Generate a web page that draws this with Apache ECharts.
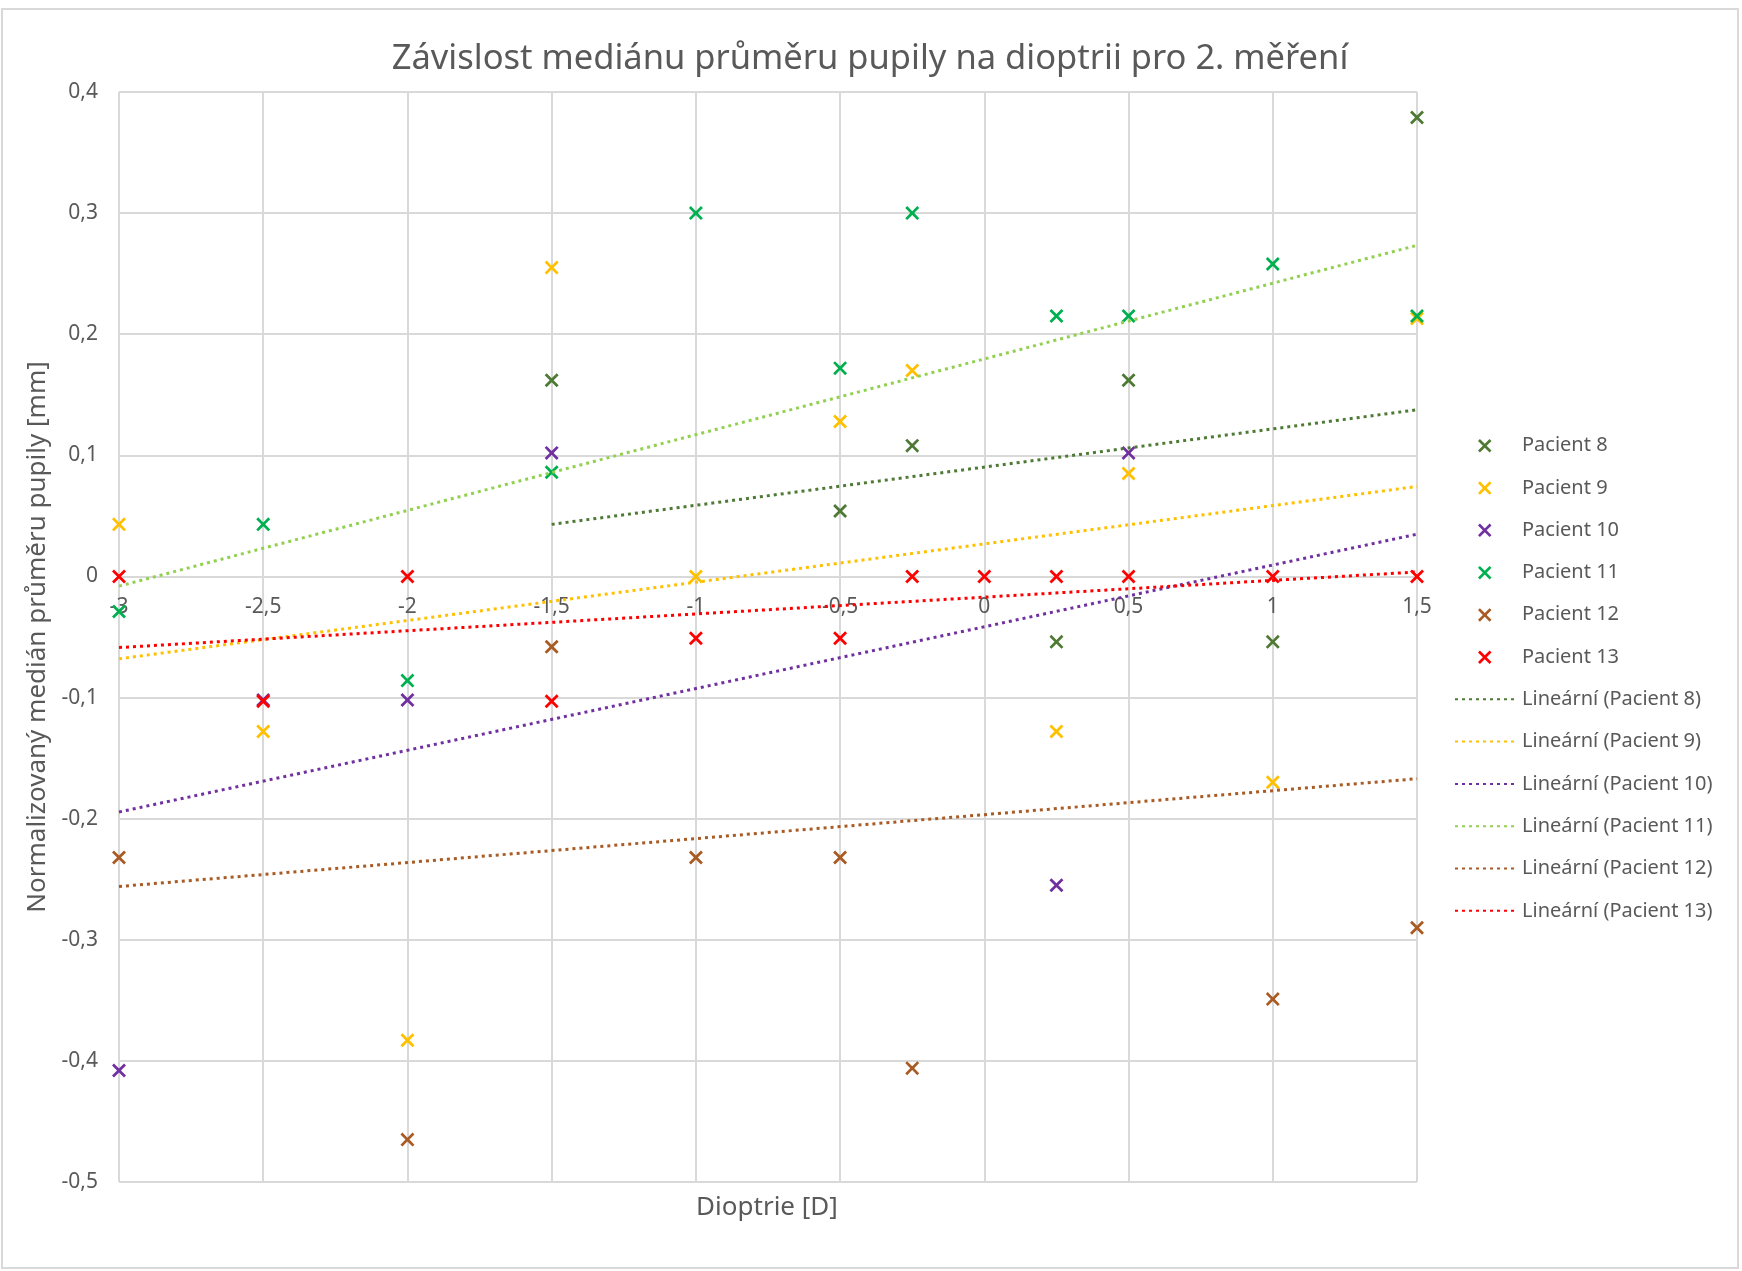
<!DOCTYPE html>
<html>
<head>
<meta charset="utf-8">
<script src="https://cdn.jsdelivr.net/npm/echarts@6/dist/echarts.min.js"></script>
<style>
  html, body { margin: 0; padding: 0; background: #ffffff; }
  #chart { width: 1742px; height: 1271px; }
</style>
</head>
<body>
<div id="chart"></div>
<script>
// Measured values: [dioptre, normalised median pupil diameter in mm]
const pacient8 = [[-1.5, 0.162], [-0.5, 0.054], [-0.25, 0.108], [0.25, -0.054], [0.5, 0.162], [1, -0.054], [1.5, 0.379]];
const pacient9 = [[-3, 0.043], [-2.5, -0.128], [-2, -0.383], [-1.5, 0.255], [-1, 0], [-0.5, 0.128], [-0.25, 0.170], [0.25, -0.128], [0.5, 0.085], [1, -0.170], [1.5, 0.213]];
const pacient10 = [[-3, -0.408], [-2.5, -0.102], [-2, -0.102], [-1.5, 0.102], [0.25, -0.255], [0.5, 0.102]];
const pacient11 = [[-3, -0.029], [-2.5, 0.043], [-2, -0.086], [-1.5, 0.086], [-1, 0.300], [-0.5, 0.172], [-0.25, 0.300], [0.25, 0.215], [0.5, 0.215], [1, 0.258], [1.5, 0.215]];
const pacient12 = [[-3, -0.232], [-2, -0.465], [-1.5, -0.058], [-1, -0.232], [-0.5, -0.232], [-0.25, -0.406], [1, -0.349], [1.5, -0.290]];
const pacient13 = [[-3, 0], [-2.5, -0.103], [-2, 0], [-1.5, -0.103], [-1, -0.051], [-0.5, -0.051], [-0.25, 0], [0, 0], [0.25, 0], [0.5, 0], [1, 0], [1.5, 0]];

// Linear trend lines (start and end point)
const trend8 = [[-1.5, 0.043], [1.5, 0.1376]];
const trend9 = [[-3, -0.068], [1.5, 0.0743]];
const trend10 = [[-3, -0.1945], [1.5, 0.0349]];
const trend11 = [[-3, -0.008], [1.5, 0.2734]];
const trend12 = [[-3, -0.256], [1.5, -0.167]];
const trend13 = [[-3, -0.0587], [1.5, 0.0037]];

const patientNames = ['Pacient 8', 'Pacient 9', 'Pacient 10', 'Pacient 11', 'Pacient 12', 'Pacient 13'];
const trendNames = ['Lineární (Pacient 8)', 'Lineární (Pacient 9)', 'Lineární (Pacient 10)', 'Lineární (Pacient 11)', 'Lineární (Pacient 12)', 'Lineární (Pacient 13)'];
const patientData = [pacient8, pacient9, pacient10, pacient11, pacient12, pacient13];
const trendData = [trend8, trend9, trend10, trend11, trend12, trend13];

const markerColors = ['#4F7A35', '#FFC000', '#7030A0', '#00B050', '#A95B24', '#FF0000'];
const trendColors = ['#4F7A35', '#FFC000', '#7030A0', '#92D050', '#A95B24', '#FF0000'];

const FONT = 'Noto Sans';
const TEXT_COLOR = '#595959';
const GRID_COLOR = '#d9d9d9';

// value range of the axes
const X_MIN = -3, X_MAX = 1.5, X_STEP = 0.5;
const Y_MIN = -0.5, Y_MAX = 0.4, Y_STEP = 0.1;

// plot area (px)
const GRID = { left: 119, right: 325, top: 92, bottom: 89 };
const PLOT_H = 1271 - GRID.top - GRID.bottom;

// X-shaped marker polygon scaled into the square (x0, y0, size)
function crossPath(x0, y0, s) {
  const t = 14;
  const pts = [[0,t],[t,0],[50,50-t],[100-t,0],[100,t],[50+t,50],[100,100-t],[100-t,100],[50,50+t],[t,100],[0,100-t],[50-t,50]];
  return pts.map((p, i) => (i ? 'L' : 'M') + (x0 + p[0] * s / 100).toFixed(2) + ',' + (y0 + p[1] * s / 100).toFixed(2)).join(' ') + ' Z';
}
const markerSymbol = 'path://' + crossPath(0, 0, 100);
// legend icon: wide box (62 x 14) with the cross placed inside it
const legendCross = 'path://M0,0 L0.01,0 L0,0.01 Z M62,14 L61.99,14 L62,13.99 Z ' + crossPath(23, 0.5, 13.5);

function fmtComma(v, step) {
  const r = Math.round(v / step) * step;
  return String(Math.round(r * 100) / 100).replace('.', ',');
}

const series = [];
patientData.forEach((d, i) => {
  series.push({
    name: patientNames[i],
    type: 'scatter',
    data: d,
    symbol: markerSymbol,
    symbolSize: 14,
    itemStyle: { color: markerColors[i], opacity: 1 },
    z: 3
  });
});
trendData.forEach((d, i) => {
  series.push({
    name: trendNames[i],
    type: 'line',
    data: d,
    symbol: 'none',
    showSymbol: false,
    lineStyle: { color: trendColors[i], width: 3, type: [3, 4], cap: 'butt' },
    itemStyle: { color: trendColors[i] },
    z: 4
  });
});

const legendData = patientNames.map(n => ({ name: n, icon: legendCross }))
  .concat(trendNames.map(n => ({
    name: n,
    itemStyle: { color: 'rgba(0,0,0,0)', borderColor: 'rgba(0,0,0,0)', borderWidth: 0, opacity: 0 }
  })));

// the x axis crosses the y axis at value 0
const xAxisOffset = -PLOT_H * (0 - Y_MIN) / (Y_MAX - Y_MIN);

const chart = echarts.init(document.getElementById('chart'), null, { renderer: 'canvas' });
chart.setOption({
  animation: false,
  backgroundColor: '#ffffff',
  title: {
    text: 'Závislost mediánu průměru pupily na dioptrii pro 2. měření',
    left: 865,
    textAlign: 'center',
    top: 34,
    textStyle: { fontFamily: FONT, fontSize: 34.5, fontWeight: 'normal', color: TEXT_COLOR, lineHeight: 40 }
  },
  grid: { left: GRID.left, right: GRID.right, top: GRID.top, bottom: GRID.bottom, containLabel: false },
  legend: {
    orient: 'vertical',
    left: 1449,
    top: 429.5,
    itemWidth: 62,
    itemHeight: 14,
    itemGap: 20.3,
    selectedMode: false,
    data: legendData,
    textStyle: { fontFamily: FONT, fontSize: 20, color: TEXT_COLOR, lineHeight: 22 }
  },
  xAxis: {
    type: 'value',
    min: X_MIN,
    max: X_MAX,
    interval: X_STEP,
    offset: xAxisOffset,
    axisLine: { show: true, onZero: false, lineStyle: { color: GRID_COLOR, width: 2 } },
    axisTick: { show: false },
    axisLabel: {
      margin: 20,
      fontFamily: FONT, fontSize: 21, color: TEXT_COLOR,
      formatter: v => fmtComma(v, X_STEP)
    },
    splitLine: { show: true, lineStyle: { color: GRID_COLOR, width: 2 } }
  },
  yAxis: {
    type: 'value',
    min: Y_MIN,
    max: Y_MAX,
    interval: Y_STEP,
    name: 'Normalizovaný medián průměru pupily [mm]',
    nameLocation: 'middle',
    nameGap: 66,
    nameRotate: 90,
    nameTextStyle: { fontFamily: FONT, fontSize: 26, color: TEXT_COLOR },
    axisLine: { show: false, onZero: false },
    axisTick: { show: false },
    axisLabel: {
      margin: 21,
      fontFamily: FONT, fontSize: 21, color: TEXT_COLOR,
      formatter: v => fmtComma(v, Y_STEP)
    },
    splitLine: { show: true, lineStyle: { color: GRID_COLOR, width: 2 } }
  },
  graphic: [
    {
      type: 'rect',
      shape: { x: 2, y: 9, width: 1736, height: 1259 },
      style: { fill: 'none', stroke: GRID_COLOR, lineWidth: 2 },
      silent: true
    },
    {
      type: 'text',
      x: 767,
      y: 1208,
      style: {
        text: 'Dioptrie [D]',
        fontFamily: FONT, fontSize: 26, fill: TEXT_COLOR,
        align: 'center', verticalAlign: 'middle'
      },
      silent: true
    }
  ],
  series: series
});
</script>
</body>
</html>
